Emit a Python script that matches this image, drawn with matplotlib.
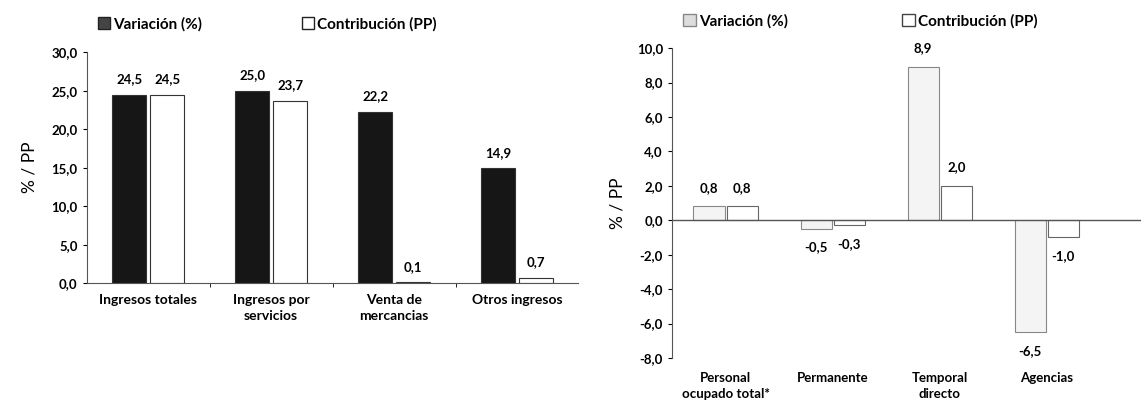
import numpy as np
import matplotlib
matplotlib.use("Agg")
import matplotlib.pyplot as plt
from matplotlib.patches import Patch
from matplotlib.ticker import MultipleLocator, FixedLocator, FuncFormatter

plt.rcParams['font.family'] = ['Lato', 'DejaVu Sans']
plt.rcParams['font.weight'] = 'bold'

# datos del grafico izquierdo (ingresos)
cat_izq = ["Ingresos totales", "Ingresos por\nservicios", "Venta de\nmercancias", "Otros ingresos"]
var_izq = [24.5, 25.0, 22.2, 14.9]
con_izq = [24.5, 23.7, 0.1, 0.7]

# datos del grafico derecho (personal)
cat_der = ["Personal\nocupado total*", "Permanente", "Temporal\ndirecto", "Agencias"]
var_der = [0.8, -0.5, 8.9, -6.5]
con_der = [0.8, -0.3, 2.0, -1.0]

coma = FuncFormatter(lambda v, p: ("%.1f" % v).replace(".", ","))

fig = plt.figure(figsize=(11.41, 4.11), dpi=100)
ax1 = fig.add_axes([0.076, 0.311, 0.431, 0.562])
ax2 = fig.add_axes([0.589, 0.129, 0.411, 0.754])

def etiquetas(ax, xs, vals, off):
    for x, v in zip(xs, vals):
        txt = ("%.1f" % v).replace(".", ",")
        if v >= 0:
            ax.annotate(txt, (x, v), xytext=(0, off), textcoords="offset points",
                        ha="center", va="bottom", fontsize=9.5, fontweight="bold")
        else:
            ax.annotate(txt, (x, v), xytext=(0, -off), textcoords="offset points",
                        ha="center", va="top", fontsize=9.5, fontweight="bold")

# ---- izquierda
x = np.arange(len(cat_izq))
w = 0.28
ax1.bar(x - 0.155, var_izq, w, color="#161616", edgecolor="#333333", linewidth=0.8)
ax1.bar(x + 0.155, con_izq, w, color="white", edgecolor="#333333", linewidth=0.8)
etiquetas(ax1, x - 0.155, var_izq, 7)
etiquetas(ax1, x + 0.155, con_izq, 7)
ax1.set_xlim(-0.5, 3.5)
ax1.set_ylim(0, 30)
ax1.yaxis.set_major_locator(MultipleLocator(5))
ax1.yaxis.set_major_formatter(coma)
ax1.set_xticks(x)
ax1.set_xticklabels(cat_izq, fontsize=10, fontweight="bold", linespacing=1.35)
ax1.tick_params(axis="x", length=0, pad=8)
ax1.xaxis.set_minor_locator(FixedLocator([0.5, 1.5, 2.5]))
ax1.tick_params(axis="x", which="minor", length=3)
ax1.tick_params(axis="y", labelsize=9.5, length=3)
ax1.set_ylabel("% / PP", fontsize=12.5, fontweight="normal", labelpad=10)
for s in ["top", "right"]:
    ax1.spines[s].set_visible(False)
ax1.spines["left"].set_color("#555555")
ax1.spines["bottom"].set_color("#555555")
for t in ax1.get_yticklabels():
    t.set_fontweight("bold")

h1 = [Patch(facecolor="#444444", edgecolor="#222222"),
      Patch(facecolor="white", edgecolor="#222222")]
ax1.legend(h1, ["Variación (%)", "Contribución (PP)"], ncol=2, frameon=False,
           loc="lower left", bbox_to_anchor=(-0.005, 1.03), fontsize=11,
           handlelength=0.8, handleheight=0.8, handletextpad=0.2, columnspacing=6.5)

# ---- derecha
x = np.arange(len(cat_der))
w = 0.29
ax2.bar(x - 0.155, var_der, w, color="#f4f4f4", edgecolor="#888888", linewidth=0.8)
ax2.bar(x + 0.155, con_der, w, color="white", edgecolor="#666666", linewidth=0.8)
etiquetas(ax2, x - 0.155, var_der, 9)
etiquetas(ax2, x + 0.155, con_der, 9)
ax2.set_xlim(-0.5, 3.88)
ax2.set_ylim(-8, 10)
ax2.yaxis.set_major_locator(MultipleLocator(2))
ax2.yaxis.set_major_formatter(coma)
ax2.axhline(0, color="#555555", linewidth=1)
ax2.set_xticks(x)
ax2.set_xticklabels(cat_der, fontsize=9.5, fontweight="bold", linespacing=1.4)
ax2.tick_params(axis="x", length=0, pad=10)
ax2.tick_params(axis="y", labelsize=9.5, length=3)
ax2.set_ylabel("% / PP", fontsize=12.5, fontweight="normal", labelpad=8)
for s in ["top", "right", "bottom"]:
    ax2.spines[s].set_visible(False)
ax2.spines["left"].set_color("#555555")
for t in ax2.get_yticklabels():
    t.set_fontweight("bold")

h2 = [Patch(facecolor="#dddddd", edgecolor="#888888"),
      Patch(facecolor="white", edgecolor="#444444")]
ax2.legend(h2, ["Variación (%)", "Contribución (PP)"], ncol=2, frameon=False,
           loc="lower left", bbox_to_anchor=(-0.005, 1.02), fontsize=11,
           handlelength=0.8, handleheight=0.8, handletextpad=0.2, columnspacing=7.5)

plt.savefig("out.png", dpi=100)
